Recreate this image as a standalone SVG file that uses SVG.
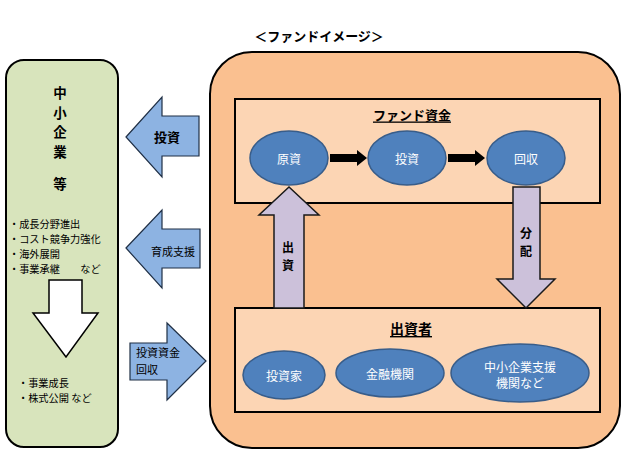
<svg xmlns="http://www.w3.org/2000/svg" width="626" height="470" viewBox="0 0 626 470">
<style>
text{font-family:"Noto Sans CJK JP","Noto Sans CJK SC",sans-serif;fill:#000}
.b{font-weight:bold}
.ell{fill:#4f81bd;stroke:#385d8a;stroke-width:1.5}
.et{fill:#fff;font-size:12px;text-anchor:middle;dominant-baseline:central}
.inner{fill:#fcd5b4;stroke:#000;stroke-width:2}
.blue{fill:#8db3e2;stroke:#1f2f45;stroke-width:1.2}
.purple{fill:#ccc1da;stroke:#1a1a1a;stroke-width:1.5}
.sm{font-size:10.2px}
.c{text-anchor:middle;dominant-baseline:central}
</style>
<rect width="626" height="470" fill="#fff"/>
<g id="title"><text x="319" y="35" class="b c" font-size="13">＜ファンドイメージ＞</text></g>
<g id="sme">
<rect x="6" y="60" width="112" height="387" rx="18" fill="#d8e4bc" stroke="#000" stroke-width="2"/>
<text x="60" y="92" class="b c" font-size="13.5">中</text>
<text x="60" y="111.5" class="b c" font-size="13.5">小</text>
<text x="60" y="131" class="b c" font-size="13.5">企</text>
<text x="60" y="150.5" class="b c" font-size="13.5">業</text>
<text x="60" y="183" class="b c" font-size="13.5">等</text>
<text x="9" y="228" class="sm">・成長分野進出</text>
<text x="9" y="243" class="sm">・コスト競争力強化</text>
<text x="9" y="258" class="sm">・海外展開</text>
<text x="9" y="273" class="sm">・事業承継　　など</text>
<polygon points="49,280 82,280 82,313 98,313 66,357 33,313 49,313" fill="#fff" stroke="#000" stroke-width="1.5"/>
<text x="18" y="387" class="sm">・事業成長</text>
<text x="18" y="402" class="sm">・株式公開 など</text>
</g>
<g id="fund">
<rect x="210" y="52" width="410" height="396" rx="42" fill="#fac090" stroke="#000" stroke-width="2"/>
</g>
<g id="fund-capital">
<rect x="235" y="99" width="365" height="104" class="inner"/>
<text x="412" y="114" class="b c" font-size="13" text-decoration="underline">ファンド資金</text>
</g>
<g id="investors">
<rect x="235" y="308" width="365" height="104" class="inner"/>
<text x="411" y="328" class="b c" font-size="14" text-decoration="underline">出資者</text>
</g>
<g id="connectors">
<polygon class="blue" points="126,137 162,97 162,116 199,116 199,156 162,156 162,177"/>
<polygon class="blue" points="126,248 162,210 162,229 200,229 200,268 162,268 162,288"/>
<polygon class="blue" points="130,343 167,343 167,323 206,361 167,400 167,380 130,380"/>
<polygon points="330,154 357,154 357,150 367,158 357,166 357,162 330,162" fill="#000"/>
<polygon points="448,154 475,154 475,150 485,158 475,166 475,162 448,162" fill="#000"/>
<polygon class="purple" points="274,308 274,215 259,215 289,187 319,215 304,215 304,308"/>
<polygon class="purple" points="513,187 540,187 540,279 555,279 526,308 497,279 513,279"/>
<text x="167" y="136" class="b c" font-size="13">投資</text>
<text x="173" y="251" class="c" font-size="11">育成支援</text>
<text x="136" y="357" font-size="11">投資資金</text>
<text x="136" y="374" font-size="11">回収</text>
<text x="288" y="246" class="b c" font-size="12">出</text>
<text x="288" y="264" class="b c" font-size="12">資</text>
<text x="526" y="232" class="b c" font-size="12">分</text>
<text x="526" y="250" class="b c" font-size="12">配</text>
</g>
<g id="n-genshi"><ellipse cx="289" cy="158" rx="39" ry="27" class="ell"/><text x="289" y="158" class="et">原資</text></g>
<g id="n-toushi"><ellipse cx="407" cy="158" rx="39" ry="27" class="ell"/><text x="407" y="158" class="et">投資</text></g>
<g id="n-kaishu"><ellipse cx="526" cy="158" rx="39" ry="27" class="ell"/><text x="526" y="158" class="et">回収</text></g>
<g id="n-investor"><ellipse cx="284" cy="375" rx="41" ry="24" class="ell"/><text x="284" y="375" class="et">投資家</text></g>
<g id="n-finance"><ellipse cx="390" cy="373" rx="54" ry="24" class="ell"/><text x="390" y="373" class="et">金融機関</text></g>
<g id="n-support"><ellipse cx="520" cy="373" rx="69" ry="29" class="ell"/><text x="520" y="366" class="et">中小企業支援</text><text x="520" y="382" class="et">機関など</text></g>
</svg>
